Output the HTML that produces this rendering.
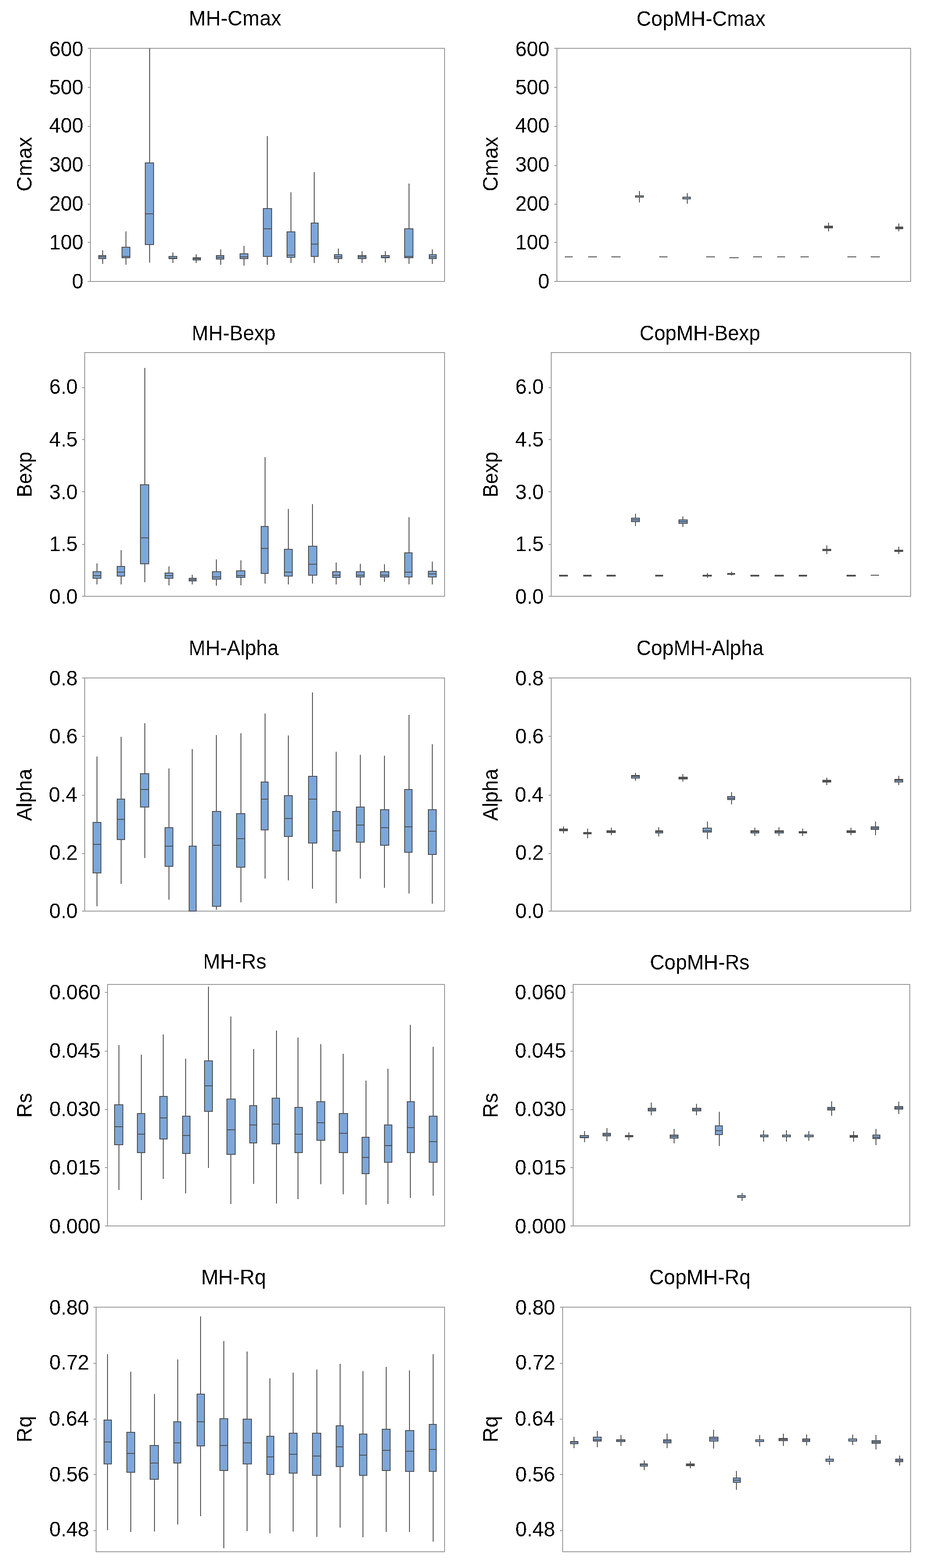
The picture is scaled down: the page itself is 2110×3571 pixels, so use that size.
<!DOCTYPE html><html><head><meta charset="utf-8"><title>Boxplots</title><style>html,body{margin:0;padding:0;background:#fff;}svg{display:block;}</style></head><body>
<svg width="2110" height="3571" viewBox="0 0 2110 3571">
<rect width="2110" height="3571" fill="#fff"/>
<g><rect x="206" y="110" width="807" height="531" fill="none" stroke="#9a9a9a" stroke-width="2"/><path d="M200 641H206M200 552H206M200 465H206M200 377H206M200 288H206M200 199H206M200 110H206" stroke="#9a9a9a" stroke-width="2" fill="none"/><path d="M234 570.0V582.0M234 589.0V601.0M287 527.0V563.0M287 587.0V603.0M341 110.0V371.0M341 557.0V598.0M394 575.0V584.0M394 589.0V599.0M447 579.0V587.0M447 592.0V599.0M503 568.0V582.0M503 590.0V603.0M556 560.0V578.0M556 589.0V605.0M609 310.0V475.0M609 584.0V603.0M663 438.0V528.0M663 586.0V599.0M716 392.0V508.0M716 584.0V599.0M771 566.0V580.0M771 589.0V599.0M825 572.0V582.0M825 589.0V599.0M878 572.0V582.0M878 587.0V598.0M932 418.0V521.0M932 587.0V601.0M985 568.0V580.0M985 589.0V601.0" stroke="#505050" stroke-width="2" fill="none"/><g fill="#7da7d9" stroke="#505050" stroke-width="2"><rect x="225" y="582.0" width="16" height="7.0"/><rect x="278" y="563.0" width="18" height="24.0"/><rect x="331" y="371.0" width="19" height="186.0"/><rect x="385" y="584.0" width="18" height="5.0"/><rect x="440" y="587.0" width="17" height="5.0"/><rect x="493" y="582.0" width="17" height="8.0"/><rect x="547" y="578.0" width="18" height="11.0"/><rect x="600" y="475.0" width="19" height="109.0"/><rect x="654" y="528.0" width="18" height="58.0"/><rect x="709" y="508.0" width="16" height="76.0"/><rect x="762" y="580.0" width="17" height="9.0"/><rect x="816" y="582.0" width="18" height="7.0"/><rect x="869" y="582.0" width="18" height="5.0"/><rect x="922" y="521.0" width="19" height="66.0"/><rect x="978" y="580.0" width="16" height="9.0"/></g><path d="M225 585.0H241M278 584.0H296M331 487.0H350M385 588.0H403M440 589.0H457M493 586.0H510M547 585.0H565M600 521.0H619M654 581.0H672M709 556.0H725M762 585.0H779M816 585.0H834M869 586.0H887M922 584.0H941M978 585.0H994" stroke="#505050" stroke-width="2" stroke-linecap="square" fill="none"/></g>
<g><rect x="1269" y="110" width="806" height="531" fill="none" stroke="#9a9a9a" stroke-width="2"/><path d="M1263 641H1269M1263 552H1269M1263 465H1269M1263 377H1269M1263 288H1269M1263 199H1269M1263 110H1269" stroke="#9a9a9a" stroke-width="2" fill="none"/><path d="M1457 435.0V446.0M1457 449.0V461.0M1566 440.0V449.0M1566 453.0V464.0M1888 507.0V515.0M1888 519.0V527.0M2048 509.0V517.0M2048 521.0V527.0" stroke="#505050" stroke-width="2" fill="none"/><g fill="#7da7d9" stroke="#505050" stroke-width="2"><rect x="1288" y="585.0" width="16" height="0.0"/><rect x="1341" y="585.0" width="18" height="0.0"/><rect x="1394" y="585.0" width="19" height="0.0"/><rect x="1448" y="446.0" width="18" height="3.0"/><rect x="1503" y="585.0" width="17" height="0.0"/><rect x="1556" y="449.0" width="17" height="4.0"/><rect x="1610" y="585.0" width="18" height="0.0"/><rect x="1663" y="587.0" width="19" height="0.0"/><rect x="1717" y="585.0" width="18" height="0.0"/><rect x="1772" y="585.0" width="16" height="0.0"/><rect x="1825" y="585.0" width="17" height="0.0"/><rect x="1879" y="515.0" width="18" height="4.0"/><rect x="1932" y="585.0" width="18" height="0.0"/><rect x="1985" y="585.0" width="19" height="0.0"/><rect x="2041" y="517.0" width="16" height="4.0"/></g><path d="M1288 585.0H1304M1341 585.0H1359M1394 585.0H1413M1448 449.0H1466M1503 585.0H1520M1556 453.0H1573M1610 585.0H1628M1663 587.0H1682M1717 585.0H1735M1772 585.0H1788M1825 585.0H1842M1879 517.0H1897M1932 585.0H1950M1985 585.0H2004M2041 519.0H2057" stroke="#505050" stroke-width="2" stroke-linecap="square" fill="none"/></g>
<g><rect x="193" y="803" width="820" height="555" fill="none" stroke="#9a9a9a" stroke-width="2"/><path d="M187 1358H193M187 1240H193M187 1120H193M187 1001H193M187 883H193" stroke="#9a9a9a" stroke-width="2" fill="none"/><path d="M221 1283.0V1302.0M221 1317.0V1331.0M276 1253.0V1290.0M276 1312.0V1331.0M330 838.0V1104.0M330 1284.0V1326.0M385 1290.0V1305.0M385 1317.0V1333.0M438 1309.0V1317.0M438 1323.0V1331.0M493 1274.0V1302.0M493 1319.0V1334.0M549 1276.0V1300.0M549 1315.0V1333.0M604 1041.0V1199.0M604 1306.0V1329.0M657 1159.0V1251.0M657 1312.0V1331.0M712 1148.0V1244.0M712 1310.0V1329.0M766 1281.0V1302.0M766 1315.0V1331.0M821 1284.0V1302.0M821 1314.0V1333.0M876 1285.0V1302.0M876 1314.0V1325.0M932 1178.0V1259.0M932 1314.0V1331.0M985 1279.0V1301.0M985 1314.0V1331.0" stroke="#505050" stroke-width="2" fill="none"/><g fill="#7da7d9" stroke="#505050" stroke-width="2"><rect x="212" y="1302.0" width="18" height="15.0"/><rect x="267" y="1290.0" width="17" height="22.0"/><rect x="320" y="1104.0" width="19" height="180.0"/><rect x="376" y="1305.0" width="18" height="12.0"/><rect x="431" y="1317.0" width="16" height="6.0"/><rect x="484" y="1302.0" width="19" height="17.0"/><rect x="539" y="1300.0" width="19" height="15.0"/><rect x="595" y="1199.0" width="16" height="107.0"/><rect x="648" y="1251.0" width="18" height="61.0"/><rect x="703" y="1244.0" width="19" height="66.0"/><rect x="758" y="1302.0" width="17" height="13.0"/><rect x="812" y="1302.0" width="18" height="12.0"/><rect x="867" y="1302.0" width="19" height="12.0"/><rect x="922" y="1259.0" width="17" height="55.0"/><rect x="976" y="1301.0" width="18" height="13.0"/></g><path d="M212 1311.0H230M267 1303.0H284M320 1225.0H339M376 1311.0H394M431 1320.0H447M484 1314.0H503M539 1311.0H558M595 1249.0H611M648 1303.0H666M703 1285.0H722M758 1310.0H775M812 1310.0H830M867 1310.0H886M922 1303.0H939M976 1307.0H994" stroke="#505050" stroke-width="2" stroke-linecap="square" fill="none"/></g>
<g><rect x="1256" y="803" width="819" height="555" fill="none" stroke="#9a9a9a" stroke-width="2"/><path d="M1250 1358H1256M1250 1240H1256M1250 1120H1256M1250 1001H1256M1250 883H1256" stroke="#9a9a9a" stroke-width="2" fill="none"/><path d="M1448 1170.0V1180.0M1448 1188.0V1198.0M1556 1176.0V1184.0M1556 1192.0V1200.0M1612 1305.0V1310.0M1612 1312.0V1316.0M1667 1302.0V1306.0M1667 1308.0V1311.0M1884 1242.0V1251.0M1884 1254.0V1262.0M2048 1245.0V1253.0M2048 1256.0V1262.0" stroke="#505050" stroke-width="2" fill="none"/><g fill="#7da7d9" stroke="#505050" stroke-width="2"><rect x="1275" y="1310.0" width="18" height="2.0"/><rect x="1330" y="1310.0" width="17" height="2.0"/><rect x="1383" y="1310.0" width="19" height="2.0"/><rect x="1439" y="1180.0" width="18" height="8.0"/><rect x="1494" y="1310.0" width="16" height="2.0"/><rect x="1547" y="1184.0" width="19" height="8.0"/><rect x="1602" y="1310.0" width="19" height="2.0"/><rect x="1658" y="1306.0" width="16" height="2.0"/><rect x="1711" y="1310.0" width="18" height="2.0"/><rect x="1766" y="1310.0" width="19" height="2.0"/><rect x="1821" y="1310.0" width="17" height="2.0"/><rect x="1875" y="1251.0" width="18" height="3.0"/><rect x="1930" y="1310.0" width="19" height="2.0"/><rect x="1985" y="1310.0" width="17" height="0.0"/><rect x="2039" y="1253.0" width="18" height="3.0"/></g><path d="M1275 1311.0H1293M1330 1311.0H1347M1383 1311.0H1402M1439 1184.0H1457M1494 1311.0H1510M1547 1188.0H1566M1602 1311.0H1621M1658 1307.0H1674M1711 1311.0H1729M1766 1311.0H1785M1821 1311.0H1838M1875 1252.0H1893M1930 1311.0H1949M1985 1310.0H2002M2039 1254.0H2057" stroke="#505050" stroke-width="2" stroke-linecap="square" fill="none"/></g>
<g><rect x="193" y="1544" width="820" height="531" fill="none" stroke="#9a9a9a" stroke-width="2"/><path d="M187 2075H193M187 1944H193M187 1811H193M187 1677H193M187 1544H193" stroke="#9a9a9a" stroke-width="2" fill="none"/><path d="M221 1723.0V1873.0M221 1988.0V2064.0M276 1678.0V1820.0M276 1912.0V2013.0M330 1647.0V1762.0M330 1838.0V1954.0M385 1750.0V1885.0M385 1973.0V2049.0M438 1706.0V1927.0M493 1674.0V1848.0M493 2064.0V2072.0M549 1670.0V1853.0M549 1975.0V2055.0M604 1625.0V1781.0M604 1890.0V2001.0M657 1675.0V1812.0M657 1905.0V2005.0M712 1577.0V1768.0M712 1920.0V2024.0M766 1712.0V1848.0M766 1938.0V2057.0M821 1719.0V1838.0M821 1918.0V2001.0M876 1721.0V1844.0M876 1925.0V2022.0M932 1628.0V1798.0M932 1941.0V2035.0M985 1695.0V1844.0M985 1946.0V2058.0" stroke="#505050" stroke-width="2" fill="none"/><g fill="#7da7d9" stroke="#505050" stroke-width="2"><rect x="212" y="1873.0" width="18" height="115.0"/><rect x="267" y="1820.0" width="17" height="92.0"/><rect x="320" y="1762.0" width="19" height="76.0"/><rect x="376" y="1885.0" width="18" height="88.0"/><rect x="431" y="1927.0" width="16" height="148.0"/><rect x="484" y="1848.0" width="19" height="216.0"/><rect x="539" y="1853.0" width="19" height="122.0"/><rect x="595" y="1781.0" width="16" height="109.0"/><rect x="648" y="1812.0" width="18" height="93.0"/><rect x="703" y="1768.0" width="19" height="152.0"/><rect x="758" y="1848.0" width="17" height="90.0"/><rect x="812" y="1838.0" width="18" height="80.0"/><rect x="867" y="1844.0" width="19" height="81.0"/><rect x="922" y="1798.0" width="17" height="143.0"/><rect x="976" y="1844.0" width="18" height="102.0"/></g><path d="M212 1923.0H230M267 1866.0H284M320 1798.0H339M376 1927.0H394M431 2075.0H447M484 1925.0H503M539 1910.0H558M595 1820.0H611M648 1864.0H666M703 1820.0H722M758 1892.0H775M812 1879.0H830M867 1885.0H886M922 1883.0H939M976 1893.0H994" stroke="#505050" stroke-width="2" stroke-linecap="square" fill="none"/></g>
<g><rect x="1256" y="1544" width="819" height="531" fill="none" stroke="#9a9a9a" stroke-width="2"/><path d="M1250 2075H1256M1250 1944H1256M1250 1811H1256M1250 1677H1256M1250 1544H1256" stroke="#9a9a9a" stroke-width="2" fill="none"/><path d="M1284 1882.0V1888.0M1284 1892.0V1898.0M1339 1887.0V1896.0M1339 1899.0V1909.0M1393 1885.0V1892.0M1393 1896.0V1902.0M1448 1760.0V1766.0M1448 1772.0V1778.0M1501 1884.0V1892.0M1501 1897.0V1905.0M1556 1763.0V1770.0M1556 1774.0V1780.0M1612 1871.0V1886.0M1612 1895.0V1911.0M1667 1804.0V1814.0M1667 1821.0V1832.0M1720 1885.0V1892.0M1720 1897.0V1904.0M1775 1884.0V1892.0M1775 1897.0V1904.0M1829 1887.0V1894.0M1829 1897.0V1904.0M1884 1771.0V1777.0M1884 1781.0V1788.0M1939 1885.0V1892.0M1939 1896.0V1902.0M1995 1871.0V1883.0M1995 1889.0V1902.0M2048 1767.0V1775.0M2048 1781.0V1788.0" stroke="#505050" stroke-width="2" fill="none"/><g fill="#7da7d9" stroke="#505050" stroke-width="2"><rect x="1275" y="1888.0" width="18" height="4.0"/><rect x="1330" y="1896.0" width="17" height="3.0"/><rect x="1383" y="1892.0" width="19" height="4.0"/><rect x="1439" y="1766.0" width="18" height="6.0"/><rect x="1494" y="1892.0" width="16" height="5.0"/><rect x="1547" y="1770.0" width="19" height="4.0"/><rect x="1602" y="1886.0" width="19" height="9.0"/><rect x="1658" y="1814.0" width="16" height="7.0"/><rect x="1711" y="1892.0" width="18" height="5.0"/><rect x="1766" y="1892.0" width="19" height="5.0"/><rect x="1821" y="1894.0" width="17" height="3.0"/><rect x="1875" y="1777.0" width="18" height="4.0"/><rect x="1930" y="1892.0" width="19" height="4.0"/><rect x="1985" y="1883.0" width="17" height="6.0"/><rect x="2039" y="1775.0" width="18" height="6.0"/></g><path d="M1275 1890.0H1293M1330 1897.0H1347M1383 1894.0H1402M1439 1768.0H1457M1494 1894.0H1510M1547 1772.0H1566M1602 1892.0H1621M1658 1818.0H1674M1711 1894.0H1729M1766 1894.0H1785M1821 1895.0H1838M1875 1779.0H1893M1930 1894.0H1949M1985 1886.0H2002M2039 1777.0H2057" stroke="#505050" stroke-width="2" stroke-linecap="square" fill="none"/></g>
<g><rect x="245" y="2242" width="768" height="550" fill="none" stroke="#9a9a9a" stroke-width="2"/><path d="M239 2792H245M239 2659H245M239 2527H245M239 2394H245M239 2260H245" stroke="#9a9a9a" stroke-width="2" fill="none"/><path d="M271 2380.0V2516.0M271 2607.0V2710.0M322 2402.0V2536.0M322 2625.0V2733.0M372 2356.0V2497.0M372 2594.0V2685.0M423 2411.0V2542.0M423 2627.0V2718.0M475 2247.0V2416.0M475 2531.0V2660.0M526 2315.0V2503.0M526 2629.0V2742.0M578 2389.0V2518.0M578 2603.0V2696.0M630 2347.0V2501.0M630 2605.0V2741.0M679 2363.0V2522.0M679 2625.0V2731.0M731 2378.0V2509.0M731 2597.0V2697.0M782 2400.0V2536.0M782 2625.0V2720.0M834 2461.0V2590.0M834 2673.0V2744.0M884 2434.0V2562.0M884 2647.0V2742.0M935 2334.0V2509.0M935 2625.0V2728.0M987 2384.0V2542.0M987 2647.0V2723.0" stroke="#505050" stroke-width="2" fill="none"/><g fill="#7da7d9" stroke="#505050" stroke-width="2"><rect x="261" y="2516.0" width="19" height="91.0"/><rect x="313" y="2536.0" width="17" height="89.0"/><rect x="364" y="2497.0" width="17" height="97.0"/><rect x="416" y="2542.0" width="17" height="85.0"/><rect x="466" y="2416.0" width="18" height="115.0"/><rect x="517" y="2503.0" width="19" height="126.0"/><rect x="569" y="2518.0" width="16" height="85.0"/><rect x="620" y="2501.0" width="17" height="104.0"/><rect x="672" y="2522.0" width="17" height="103.0"/><rect x="722" y="2509.0" width="18" height="88.0"/><rect x="773" y="2536.0" width="19" height="89.0"/><rect x="825" y="2590.0" width="16" height="83.0"/><rect x="876" y="2562.0" width="17" height="85.0"/><rect x="928" y="2509.0" width="16" height="116.0"/><rect x="978" y="2542.0" width="18" height="105.0"/></g><path d="M261 2566.0H280M313 2583.0H330M364 2546.0H381M416 2586.0H433M466 2473.0H484M517 2573.0H536M569 2562.0H585M620 2560.0H637M672 2583.0H689M722 2557.0H740M773 2581.0H792M825 2636.0H841M876 2609.0H893M928 2568.0H944M978 2600.0H996" stroke="#505050" stroke-width="2" stroke-linecap="square" fill="none"/></g>
<g><rect x="1306" y="2242" width="767" height="550" fill="none" stroke="#9a9a9a" stroke-width="2"/><path d="M1300 2792H1306M1300 2659H1306M1300 2527H1306M1300 2394H1306M1300 2260H1306" stroke="#9a9a9a" stroke-width="2" fill="none"/><path d="M1332 2576.0V2586.0M1332 2591.0V2601.0M1383 2569.0V2581.0M1383 2587.0V2599.0M1433 2579.0V2586.0M1433 2589.0V2597.0M1484 2511.0V2524.0M1484 2530.0V2540.0M1536 2571.0V2585.0M1536 2592.0V2604.0M1587 2514.0V2524.0M1587 2530.0V2540.0M1639 2532.0V2564.0M1639 2584.0V2610.0M1691 2717.0V2723.0M1691 2727.0V2735.0M1740 2574.0V2585.0M1740 2589.0V2600.0M1792 2574.0V2585.0M1792 2589.0V2600.0M1843 2576.0V2585.0M1843 2589.0V2598.0M1895 2508.0V2522.0M1895 2528.0V2541.0M1945 2576.0V2586.0M1945 2590.0V2600.0M1996 2571.0V2585.0M1996 2593.0V2608.0M2048 2509.0V2520.0M2048 2526.0V2537.0" stroke="#505050" stroke-width="2" fill="none"/><g fill="#7da7d9" stroke="#505050" stroke-width="2"><rect x="1322" y="2586.0" width="19" height="5.0"/><rect x="1374" y="2581.0" width="17" height="6.0"/><rect x="1425" y="2586.0" width="17" height="3.0"/><rect x="1477" y="2524.0" width="17" height="6.0"/><rect x="1527" y="2585.0" width="18" height="7.0"/><rect x="1578" y="2524.0" width="19" height="6.0"/><rect x="1630" y="2564.0" width="16" height="20.0"/><rect x="1681" y="2723.0" width="17" height="4.0"/><rect x="1733" y="2585.0" width="17" height="4.0"/><rect x="1783" y="2585.0" width="18" height="4.0"/><rect x="1834" y="2585.0" width="19" height="4.0"/><rect x="1886" y="2522.0" width="16" height="6.0"/><rect x="1937" y="2586.0" width="17" height="4.0"/><rect x="1989" y="2585.0" width="16" height="8.0"/><rect x="2039" y="2520.0" width="18" height="6.0"/></g><path d="M1322 2590.0H1341M1374 2584.0H1391M1425 2588.0H1442M1477 2527.0H1494M1527 2588.0H1545M1578 2527.0H1597M1630 2575.0H1646M1681 2727.0H1698M1733 2589.0H1750M1783 2589.0H1801M1834 2589.0H1853M1886 2525.0H1902M1937 2588.0H1954M1989 2590.0H2005M2039 2523.0H2057" stroke="#505050" stroke-width="2" stroke-linecap="square" fill="none"/></g>
<g><rect x="219" y="2977" width="794" height="557" fill="none" stroke="#9a9a9a" stroke-width="2"/><path d="M213 3486H219M213 3358H219M213 3232H219M213 3105H219M213 2977H219" stroke="#9a9a9a" stroke-width="2" fill="none"/><path d="M245 3084.0V3234.0M245 3334.0V3485.0M298 3124.0V3262.0M298 3353.0V3489.0M352 3175.0V3292.0M352 3369.0V3488.0M405 3096.0V3238.0M405 3332.0V3472.0M457 2998.0V3175.0M457 3293.0V3453.0M510 3054.0V3231.0M510 3349.0V3526.0M563 3078.0V3232.0M563 3334.0V3487.0M615 3139.0V3271.0M615 3358.0V3492.0M668 3126.0V3264.0M668 3355.0V3488.0M722 3119.0V3264.0M722 3360.0V3500.0M775 3106.0V3247.0M775 3340.0V3479.0M827 3123.0V3266.0M827 3360.0V3501.0M880 3113.0V3255.0M880 3349.0V3489.0M933 3121.0V3258.0M933 3351.0V3489.0M987 3084.0V3244.0M987 3351.0V3511.0" stroke="#505050" stroke-width="2" fill="none"/><g fill="#7da7d9" stroke="#505050" stroke-width="2"><rect x="237" y="3234.0" width="17" height="100.0"/><rect x="289" y="3262.0" width="18" height="91.0"/><rect x="342" y="3292.0" width="19" height="77.0"/><rect x="396" y="3238.0" width="16" height="94.0"/><rect x="449" y="3175.0" width="17" height="118.0"/><rect x="501" y="3231.0" width="18" height="118.0"/><rect x="554" y="3232.0" width="19" height="102.0"/><rect x="608" y="3271.0" width="16" height="87.0"/><rect x="659" y="3264.0" width="18" height="91.0"/><rect x="712" y="3264.0" width="19" height="96.0"/><rect x="766" y="3247.0" width="16" height="93.0"/><rect x="819" y="3266.0" width="17" height="94.0"/><rect x="871" y="3255.0" width="18" height="94.0"/><rect x="924" y="3258.0" width="19" height="93.0"/><rect x="978" y="3244.0" width="16" height="107.0"/></g><path d="M237 3284.0H254M289 3310.0H307M342 3332.0H361M396 3286.0H412M449 3238.0H466M501 3292.0H519M554 3286.0H573M608 3318.0H624M659 3312.0H677M712 3316.0H731M766 3295.0H782M819 3314.0H836M871 3303.0H889M924 3305.0H943M978 3301.0H994" stroke="#505050" stroke-width="2" stroke-linecap="square" fill="none"/></g>
<g><rect x="1282" y="2977" width="793" height="557" fill="none" stroke="#9a9a9a" stroke-width="2"/><path d="M1276 3486H1282M1276 3358H1282M1276 3232H1282M1276 3105H1282M1276 2977H1282" stroke="#9a9a9a" stroke-width="2" fill="none"/><path d="M1308 3272.0V3283.0M1308 3288.0V3298.0M1361 3259.0V3273.0M1361 3282.0V3296.0M1415 3268.0V3279.0M1415 3283.0V3293.0M1468 3326.0V3334.0M1468 3339.0V3348.0M1520 3265.0V3279.0M1520 3286.0V3298.0M1573 3328.0V3334.0M1573 3338.0V3344.0M1626 3256.0V3273.0M1626 3282.0V3299.0M1678 3350.0V3366.0M1678 3376.0V3393.0M1731 3268.0V3279.0M1731 3283.0V3294.0M1785 3265.0V3276.0M1785 3281.0V3293.0M1838 3267.0V3277.0M1838 3283.0V3292.0M1890 3315.0V3323.0M1890 3328.0V3336.0M1943 3267.0V3277.0M1943 3282.0V3291.0M1996 3268.0V3281.0M1996 3287.0V3301.0M2050 3315.0V3323.0M2050 3329.0V3338.0" stroke="#505050" stroke-width="2" fill="none"/><g fill="#7da7d9" stroke="#505050" stroke-width="2"><rect x="1300" y="3283.0" width="17" height="5.0"/><rect x="1352" y="3273.0" width="18" height="9.0"/><rect x="1405" y="3279.0" width="19" height="4.0"/><rect x="1459" y="3334.0" width="16" height="5.0"/><rect x="1512" y="3279.0" width="17" height="7.0"/><rect x="1564" y="3334.0" width="18" height="4.0"/><rect x="1617" y="3273.0" width="19" height="9.0"/><rect x="1671" y="3366.0" width="16" height="10.0"/><rect x="1722" y="3279.0" width="18" height="4.0"/><rect x="1775" y="3276.0" width="19" height="5.0"/><rect x="1829" y="3277.0" width="16" height="6.0"/><rect x="1882" y="3323.0" width="17" height="5.0"/><rect x="1934" y="3277.0" width="18" height="5.0"/><rect x="1987" y="3281.0" width="19" height="6.0"/><rect x="2041" y="3323.0" width="16" height="6.0"/></g><path d="M1300 3284.0H1317M1352 3279.0H1370M1405 3280.0H1424M1459 3335.0H1475M1512 3282.0H1529M1564 3336.0H1582M1617 3277.0H1636M1671 3371.0H1687M1722 3279.0H1740M1775 3278.0H1794M1829 3280.0H1845M1882 3328.0H1899M1934 3277.0H1952M1987 3284.0H2006M2041 3326.0H2057" stroke="#505050" stroke-width="2" stroke-linecap="square" fill="none"/></g>
<defs><filter id="bin" x="0" y="0" width="2110" height="3571" filterUnits="userSpaceOnUse"><feComponentTransfer><feFuncA type="discrete" tableValues="0 1"/></feComponentTransfer></filter></defs>
<g font-family="Liberation Sans, Arial, sans-serif" font-size="48" fill="#000" filter="url(#bin)">
<text x="430.00" y="58.00" textLength="210.88" lengthAdjust="spacingAndGlyphs">MH-Cmax</text>
<text transform="translate(72.00,436.00) rotate(-90)" textLength="124.39" lengthAdjust="spacingAndGlyphs">Cmax</text>
<text x="164.10" y="657.10" textLength="25.90" lengthAdjust="spacingAndGlyphs">0</text>
<text x="112.31" y="567.50" textLength="77.69" lengthAdjust="spacingAndGlyphs">100</text>
<text x="112.31" y="480.20" textLength="77.69" lengthAdjust="spacingAndGlyphs">200</text>
<text x="112.31" y="390.60" textLength="77.69" lengthAdjust="spacingAndGlyphs">300</text>
<text x="112.31" y="302.20" textLength="77.69" lengthAdjust="spacingAndGlyphs">400</text>
<text x="112.31" y="214.90" textLength="77.69" lengthAdjust="spacingAndGlyphs">500</text>
<text x="112.31" y="127.50" textLength="77.69" lengthAdjust="spacingAndGlyphs">600</text>
<text x="1450.20" y="58.50" textLength="294.06" lengthAdjust="spacingAndGlyphs">CopMH-Cmax</text>
<text transform="translate(1134.30,436.00) rotate(-90)" textLength="124.60" lengthAdjust="spacingAndGlyphs">Cmax</text>
<text x="1226.10" y="657.10" textLength="25.90" lengthAdjust="spacingAndGlyphs">0</text>
<text x="1174.31" y="567.50" textLength="77.69" lengthAdjust="spacingAndGlyphs">100</text>
<text x="1174.31" y="480.20" textLength="77.69" lengthAdjust="spacingAndGlyphs">200</text>
<text x="1174.31" y="390.60" textLength="77.69" lengthAdjust="spacingAndGlyphs">300</text>
<text x="1174.31" y="302.20" textLength="77.69" lengthAdjust="spacingAndGlyphs">400</text>
<text x="1174.31" y="214.90" textLength="77.69" lengthAdjust="spacingAndGlyphs">500</text>
<text x="1174.31" y="127.50" textLength="77.69" lengthAdjust="spacingAndGlyphs">600</text>
<text x="436.80" y="775.00" textLength="190.98" lengthAdjust="spacingAndGlyphs">MH-Bexp</text>
<text transform="translate(72.10,1132.40) rotate(-90)" textLength="103.35" lengthAdjust="spacingAndGlyphs">Bexp</text>
<text x="112.27" y="1375.00" textLength="64.73" lengthAdjust="spacingAndGlyphs">0.0</text>
<text x="112.27" y="1255.30" textLength="64.73" lengthAdjust="spacingAndGlyphs">1.5</text>
<text x="112.27" y="1136.90" textLength="64.73" lengthAdjust="spacingAndGlyphs">3.0</text>
<text x="112.27" y="1017.10" textLength="64.73" lengthAdjust="spacingAndGlyphs">4.5</text>
<text x="112.27" y="897.30" textLength="64.73" lengthAdjust="spacingAndGlyphs">6.0</text>
<text x="1457.60" y="775.30" textLength="274.57" lengthAdjust="spacingAndGlyphs">CopMH-Bexp</text>
<text transform="translate(1134.30,1132.40) rotate(-90)" textLength="103.35" lengthAdjust="spacingAndGlyphs">Bexp</text>
<text x="1174.27" y="1375.00" textLength="64.73" lengthAdjust="spacingAndGlyphs">0.0</text>
<text x="1174.27" y="1255.30" textLength="64.73" lengthAdjust="spacingAndGlyphs">1.5</text>
<text x="1174.27" y="1136.90" textLength="64.73" lengthAdjust="spacingAndGlyphs">3.0</text>
<text x="1174.27" y="1017.10" textLength="64.73" lengthAdjust="spacingAndGlyphs">4.5</text>
<text x="1174.27" y="897.30" textLength="64.73" lengthAdjust="spacingAndGlyphs">6.0</text>
<text x="429.80" y="1491.50" textLength="205.23" lengthAdjust="spacingAndGlyphs">MH-Alpha</text>
<text transform="translate(72.00,1869.60) rotate(-90)" textLength="118.86" lengthAdjust="spacingAndGlyphs">Alpha</text>
<text x="112.27" y="2091.00" textLength="64.73" lengthAdjust="spacingAndGlyphs">0.0</text>
<text x="112.27" y="1958.20" textLength="64.73" lengthAdjust="spacingAndGlyphs">0.2</text>
<text x="111.27" y="1825.50" textLength="64.73" lengthAdjust="spacingAndGlyphs">0.4</text>
<text x="112.27" y="1692.70" textLength="64.73" lengthAdjust="spacingAndGlyphs">0.6</text>
<text x="112.27" y="1561.10" textLength="64.73" lengthAdjust="spacingAndGlyphs">0.8</text>
<text x="1450.20" y="1491.80" textLength="289.83" lengthAdjust="spacingAndGlyphs">CopMH-Alpha</text>
<text transform="translate(1134.30,1869.60) rotate(-90)" textLength="118.86" lengthAdjust="spacingAndGlyphs">Alpha</text>
<text x="1174.27" y="2091.00" textLength="64.73" lengthAdjust="spacingAndGlyphs">0.0</text>
<text x="1174.27" y="1958.20" textLength="64.73" lengthAdjust="spacingAndGlyphs">0.2</text>
<text x="1173.27" y="1825.50" textLength="64.73" lengthAdjust="spacingAndGlyphs">0.4</text>
<text x="1174.27" y="1692.70" textLength="64.73" lengthAdjust="spacingAndGlyphs">0.6</text>
<text x="1174.27" y="1561.10" textLength="64.73" lengthAdjust="spacingAndGlyphs">0.8</text>
<text x="462.80" y="2206.00" textLength="144.25" lengthAdjust="spacingAndGlyphs">MH-Rs</text>
<text transform="translate(72.30,2545.40) rotate(-90)" textLength="56.43" lengthAdjust="spacingAndGlyphs">Rs</text>
<text x="112.48" y="2809.10" textLength="116.52" lengthAdjust="spacingAndGlyphs">0.000</text>
<text x="112.48" y="2675.10" textLength="116.52" lengthAdjust="spacingAndGlyphs">0.015</text>
<text x="112.48" y="2542.40" textLength="116.52" lengthAdjust="spacingAndGlyphs">0.030</text>
<text x="112.48" y="2408.50" textLength="116.52" lengthAdjust="spacingAndGlyphs">0.045</text>
<text x="112.48" y="2275.70" textLength="116.52" lengthAdjust="spacingAndGlyphs">0.060</text>
<text x="1481.00" y="2207.50" textLength="226.79" lengthAdjust="spacingAndGlyphs">CopMH-Rs</text>
<text transform="translate(1134.30,2545.40) rotate(-90)" textLength="56.43" lengthAdjust="spacingAndGlyphs">Rs</text>
<text x="1173.48" y="2809.10" textLength="116.52" lengthAdjust="spacingAndGlyphs">0.000</text>
<text x="1173.48" y="2675.10" textLength="116.52" lengthAdjust="spacingAndGlyphs">0.015</text>
<text x="1173.48" y="2542.40" textLength="116.52" lengthAdjust="spacingAndGlyphs">0.030</text>
<text x="1173.48" y="2408.50" textLength="116.52" lengthAdjust="spacingAndGlyphs">0.045</text>
<text x="1173.48" y="2275.70" textLength="116.52" lengthAdjust="spacingAndGlyphs">0.060</text>
<text x="458.40" y="2925.00" textLength="147.90" lengthAdjust="spacingAndGlyphs">MH-Rq</text>
<text transform="translate(72.00,3284.80) rotate(-90)" textLength="59.99" lengthAdjust="spacingAndGlyphs">Rq</text>
<text x="112.38" y="3499.40" textLength="90.62" lengthAdjust="spacingAndGlyphs">0.48</text>
<text x="112.38" y="3374.10" textLength="90.62" lengthAdjust="spacingAndGlyphs">0.56</text>
<text x="111.38" y="3247.20" textLength="90.62" lengthAdjust="spacingAndGlyphs">0.64</text>
<text x="112.38" y="3119.00" textLength="90.62" lengthAdjust="spacingAndGlyphs">0.72</text>
<text x="112.38" y="2994.20" textLength="90.62" lengthAdjust="spacingAndGlyphs">0.80</text>
<text x="1479.40" y="2924.50" textLength="231.03" lengthAdjust="spacingAndGlyphs">CopMH-Rq</text>
<text transform="translate(1134.30,3284.80) rotate(-90)" textLength="59.99" lengthAdjust="spacingAndGlyphs">Rq</text>
<text x="1174.38" y="3499.40" textLength="90.62" lengthAdjust="spacingAndGlyphs">0.48</text>
<text x="1174.38" y="3374.10" textLength="90.62" lengthAdjust="spacingAndGlyphs">0.56</text>
<text x="1173.38" y="3247.20" textLength="90.62" lengthAdjust="spacingAndGlyphs">0.64</text>
<text x="1174.38" y="3119.00" textLength="90.62" lengthAdjust="spacingAndGlyphs">0.72</text>
<text x="1174.38" y="2994.20" textLength="90.62" lengthAdjust="spacingAndGlyphs">0.80</text>
</g></svg></body></html>
